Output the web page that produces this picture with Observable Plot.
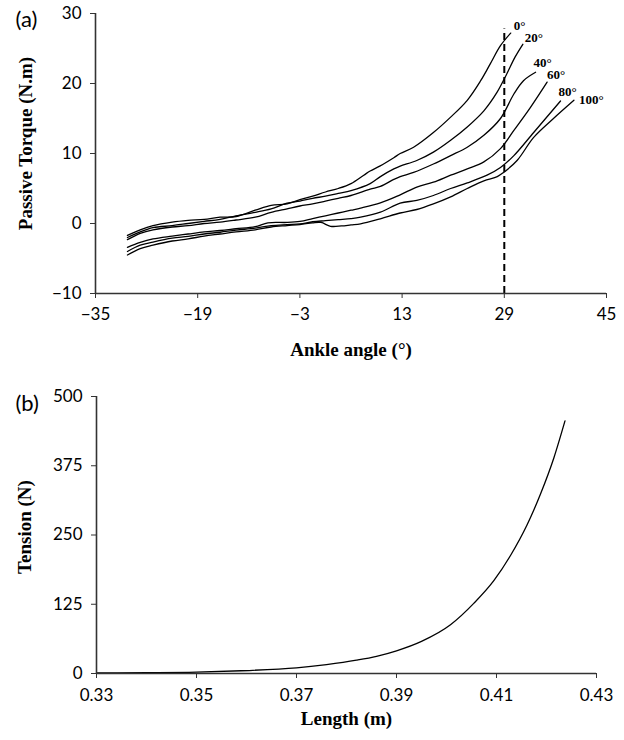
<!DOCTYPE html>
<html>
<head>
<meta charset="utf-8">
<script src="https://cdn.jsdelivr.net/npm/d3@7"></script>
<script src="https://cdn.jsdelivr.net/npm/@observablehq/plot@0.6"></script>
<style>
  body { margin: 0; background: #fff; }
  #fig { position: relative; width: 624px; height: 740px; }
  #fig svg { position: absolute; left: 0; }
</style>
</head>
<body>
<div id="fig"></div>
<script>
// ---------- Panel (a): passive torque vs ankle angle ----------
const seriesLabels = ["0°", "20°", "40°", "60°", "80°", "100°"];

const ankle0  = [-30, -28, -26, -23, -20.5, -18, -15.5, -13, -10, -7.5, -5, -3, -1, 1, 3, 5, 7, 8, 9.5, 11.7, 12.7, 14.8, 17.9, 20.6, 23.2, 25.3, 26.8, 28.4, 30.0];
const torque0 = [-1.7, -0.9, -0.3, 0.2, 0.45, 0.6, 0.9, 1.0, 1.9, 2.6, 2.8, 3.4, 3.9, 4.5, 5.0, 5.7, 6.9, 7.5, 8.2, 9.4, 10.0, 10.9, 13.0, 15.2, 17.6, 20.4, 22.8, 25.4, 27.2];

const ankle20  = [-30, -28, -26, -23, -20.5, -18, -15.5, -13, -10, -7.5, -5, -3, -1, 1, 3, 5, 8, 9.6, 11.7, 12.7, 15.3, 17.9, 20.6, 23.2, 25.8, 27.9, 29.4, 30.7, 31.9];
const torque20 = [-2.0, -1.2, -0.6, -0.3, 0.0, 0.3, 0.6, 1.1, 1.6, 2.1, 2.9, 3.2, 3.6, 3.9, 4.3, 4.7, 5.7, 6.7, 7.8, 8.2, 9.0, 10.2, 11.9, 13.8, 16.1, 18.8, 21.4, 23.8, 25.6];

const ankle40  = [-30, -28, -26, -23, -20.5, -18, -15.5, -13, -10, -7.5, -5, -3, -1, 1, 3, 5, 8, 9.6, 11.7, 12.7, 14.8, 17.9, 20.6, 23.2, 25.8, 28.4, 30.5, 32.0, 33.9];
const torque40 = [-2.3, -1.4, -0.9, -0.5, -0.3, 0.0, 0.2, 0.5, 0.9, 1.6, 2.1, 2.5, 2.8, 3.2, 3.6, 4.0, 4.9, 5.3, 6.3, 6.7, 7.3, 8.5, 9.7, 10.9, 12.6, 15.0, 18.5, 20.4, 21.6];

const ankle60  = [-30, -28, -26, -23, -20.5, -18, -15.5, -13, -10, -8, -5, -3, -1, 1, 3, 5, 6.5, 9.6, 12.7, 15.3, 17.9, 20.6, 23.2, 25.8, 28.4, 30.5, 33.1, 35.7];
const torque60 = [-3.4, -2.7, -2.2, -1.8, -1.5, -1.2, -1.0, -0.75, -0.45, 0.1, 0.15, 0.3, 0.7, 1.1, 1.5, 1.9, 2.2, 2.95, 4.1, 5.2, 5.9, 6.9, 7.8, 8.8, 10.7, 13.3, 16.6, 20.2];

const ankle80  = [-30, -28, -26, -23, -20.5, -18, -15.5, -13, -10, -7.5, -5, -3, -1, 1, 3, 5, 6.5, 9.6, 12.7, 15.3, 17.9, 20.6, 23.2, 26.3, 28.4, 30.5, 33.6, 37.8];
const torque80 = [-4.0, -3.1, -2.65, -2.1, -1.85, -1.5, -1.25, -0.95, -0.65, -0.3, -0.15, -0.05, 0.25, 0.4, 0.55, 0.7, 0.9, 1.62, 2.9, 3.3, 4.0, 5.0, 5.8, 6.9, 8.0, 9.7, 13.0, 17.5];

const ankle100  = [-30, -28, -26, -23, -20.5, -18, -15.5, -13, -10, -7.5, -5, -3, -1, 0.3, 1.8, 3.5, 5, 6.5, 9.6, 12.7, 15.3, 17.9, 20.6, 23.2, 25.8, 27.9, 28.9, 31.0, 33.6, 36.7, 39.9];
const torque100 = [-4.5, -3.6, -3.1, -2.5, -2.2, -1.8, -1.5, -1.2, -0.9, -0.5, -0.3, -0.15, 0.1, 0.15, -0.4, -0.35, -0.2, -0.05, 0.67, 1.5, 2.0, 2.8, 3.8, 5.0, 6.1, 6.7, 7.3, 9.0, 12.3, 15.0, 17.6];

const angleTicks  = [-35, -19, -3, 13, 29, 45];
const torqueTicks = [-10, 0, 10, 20, 30];
const markerAngle = 29;

// ---------- Panel (b): tension vs length ----------
const lengthM  = [0.330, 0.340, 0.350, 0.359, 0.370, 0.376, 0.382, 0.386, 0.390, 0.395, 0.4008, 0.4055, 0.4095, 0.4128, 0.4161, 0.4188, 0.4215, 0.4237];
const tensionN = [1, 1.5, 2.5, 5, 10, 16, 24, 31, 41, 58, 88, 127, 168, 213, 268, 324, 390, 456];

const lengthTicks  = [0.33, 0.35, 0.37, 0.39, 0.41, 0.43];
const tensionTicks = [0, 125, 250, 375, 500];

// ---------- build tables ----------
const angles  = [ankle0, ankle20, ankle40, ankle60, ankle80, ankle100];
const torques = [torque0, torque20, torque40, torque60, torque80, torque100];
const rowsA = [];
seriesLabels.forEach((lab, i) => {
  angles[i].forEach((a, j) => rowsA.push({ series: lab, angle: a, torque: torques[i][j] }));
});
const ends = seriesLabels.map((lab, i) => ({ series: lab, angle: angles[i].at(-1), torque: torques[i].at(-1) }));
const rowsB = lengthM.map((l, i) => ({ length: l, tension: tensionN[i] }));

// ---------- styles ----------
const serif = "'Liberation Serif', 'Times New Roman', serif";
const sans = "Lato, 'Open Sans', sans-serif";
const labelOffsets = [[3, -7], [2, -6], [-2, -9], [0, -7], [-2, -9], [5, 0]];
const titleStyle = { fontFamily: serif, fontWeight: "bold", fontSize: 19, fill: "#000" };

const chartA = Plot.plot({
  width: 624, height: 370,
  marginLeft: 95, marginRight: 18, marginTop: 13, marginBottom: 77,
  style: { fontFamily: sans, fontSize: "17px", color: "#000", background: "#fff", overflow: "visible" },
  x: { domain: [-35, 45] },
  y: { domain: [-10, 30] },
  marks: [
    Plot.ruleX([markerAngle], { y1: -10, y2: 27.8, stroke: "#000", strokeWidth: 2, strokeDasharray: "7,4" }),
    Plot.line(rowsA, { x: "angle", y: "torque", z: "series", curve: "catmull-rom", stroke: "#000", strokeWidth: 1.3 }),
    ...ends.map((d, i) => Plot.text([d], {
      x: "angle", y: "torque", text: "series", textAnchor: "start", lineAnchor: "middle",
      dx: labelOffsets[i][0], dy: labelOffsets[i][1],
      fontFamily: serif, fontWeight: "bold", fontSize: 13, fill: "#000"
    })),
    Plot.axisX({ ticks: angleTicks, tickSize: 5, tickPadding: 9, label: null, fontSize: 17, stroke: "#333" }),
    Plot.axisY({ ticks: torqueTicks, tickSize: 5, tickPadding: 9, label: null, fontSize: 17, stroke: "#333" }),
    Plot.ruleX([-35], { stroke: "#333", strokeWidth: 1.6 }),
    Plot.ruleY([-10], { stroke: "#333", strokeWidth: 1.6 }),
    Plot.text(["Ankle angle (°)"], { frameAnchor: "bottom", textAnchor: "middle", lineAnchor: "middle", dy: 56, ...titleStyle }),
    Plot.text(["Passive Torque (N.m)"], { frameAnchor: "left", textAnchor: "middle", lineAnchor: "middle", rotate: -90, dx: -70, dy: -10, ...titleStyle }),
    Plot.text(["(a)"], { frameAnchor: "top-left", textAnchor: "start", lineAnchor: "middle", dx: -80, dy: 6, fontFamily: sans, fontSize: 22, fill: "#000" })
  ]
});

const chartB = Plot.plot({
  width: 624, height: 370,
  marginLeft: 96, marginRight: 28, marginTop: 26, marginBottom: 67,
  style: { fontFamily: sans, fontSize: "17px", color: "#000", background: "#fff", overflow: "visible" },
  x: { domain: [0.33, 0.43] },
  y: { domain: [0, 500] },
  marks: [
    Plot.line(rowsB, { x: "length", y: "tension", curve: "monotone-x", stroke: "#000", strokeWidth: 1.3 }),
    Plot.axisX({ ticks: lengthTicks, tickFormat: d3.format(".2f"), tickSize: 5, tickPadding: 10, label: null, fontSize: 17, stroke: "#333" }),
    Plot.axisY({ ticks: tensionTicks, tickSize: 5, tickPadding: 9, label: null, fontSize: 17, stroke: "#333" }),
    Plot.ruleX([0.33], { stroke: "#333", strokeWidth: 1.6 }),
    Plot.ruleY([0], { stroke: "#333", strokeWidth: 1.6 }),
    Plot.text(["Length (m)"], { frameAnchor: "bottom", textAnchor: "middle", lineAnchor: "middle", dy: 45, ...titleStyle }),
    Plot.text(["Tension (N)"], { frameAnchor: "left", textAnchor: "middle", lineAnchor: "middle", rotate: -90, dx: -72, dy: -8, ...titleStyle }),
    Plot.text(["(b)"], { frameAnchor: "top-left", textAnchor: "start", lineAnchor: "middle", dx: -81, dy: 7, fontFamily: sans, fontSize: 22, fill: "#000" })
  ]
});

chartA.style.top = "0px";
chartB.style.top = "370px";
const fig = document.getElementById("fig");
fig.appendChild(chartA);
fig.appendChild(chartB);
</script>
</body>
</html>
